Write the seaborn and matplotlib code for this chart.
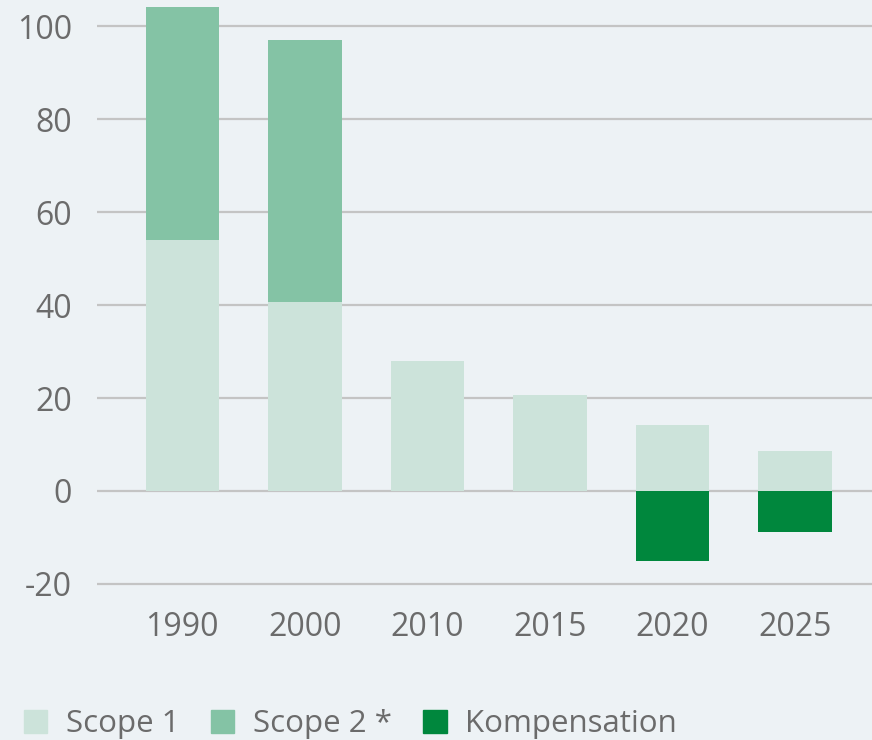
import pandas as pd
import numpy as np
import seaborn as sns
import matplotlib.pyplot as plt
from matplotlib.patches import Patch

years = ["1990", "2000", "2010", "2015", "2020", "2025"]
scope1 = [54, 40.6, 28, 20.6, 14.2, 8.5]
scope2 = [50, 56.3, 0, 0, 0, 0]
kompensation = [np.nan, np.nan, np.nan, np.nan, -15.1, -8.9]

df = pd.DataFrame({"year": years, "scope1": scope1, "scope2": scope2, "komp": kompensation})
df["total"] = df["scope1"] + df["scope2"]

bg = "#edf2f5"
c1 = "#cce3da"
c2 = "#84c3a5"
c3 = "#00873d"
txt = "#6b6b6b"

sns.set_style("white")
plt.rcParams["font.family"] = ["Open Sans", "DejaVu Sans"]

fig = plt.figure(figsize=(8.72, 7.4), dpi=100, facecolor=bg)
ax = fig.add_axes([0.111, 0.1857, 0.889, 0.8143])
ax.set_facecolor(bg)

# total first, then scope 1 over it
sns.barplot(data=df, x="year", y="total", color=c2, width=0.6, saturation=1, linewidth=0, ax=ax)
sns.barplot(data=df, x="year", y="scope1", color=c1, width=0.6, saturation=1, linewidth=0, ax=ax)
sns.barplot(data=df, x="year", y="komp", color=c3, width=0.6, saturation=1, linewidth=0, ax=ax)

ax.set_xlim(-0.698, 5.63)
ax.set_ylim(-24, 105.6)
ax.set_yticks([-20, 0, 20, 40, 60, 80, 100])
ax.set_yticklabels(["-20", "0", "20", "40", "60", "80", "100"])
ax.yaxis.grid(True, color="#c4c4c4", linewidth=1.6)
ax.set_axisbelow(True)
sns.despine(ax=ax, left=True, bottom=True)
ax.tick_params(axis="both", length=0, labelsize=23, labelcolor=txt)
ax.tick_params(axis="y", pad=18)
ax.tick_params(axis="x", pad=6)
ax.set_xlabel("")
ax.set_ylabel("")

handles = [Patch(color=c1, label="Scope 1"),
           Patch(color=c2, label="Scope 2 *"),
           Patch(color=c3, label="Kompensation")]
fig.legend(handles=handles, loc="lower left", bbox_to_anchor=(-0.005, -0.037), ncol=3,
           frameon=False, fontsize=22.5, labelcolor=txt, handlelength=0.75, handleheight=0.75,
           handletextpad=0.6, columnspacing=1.0)

fig.savefig("out.png", dpi=100, facecolor=bg)
